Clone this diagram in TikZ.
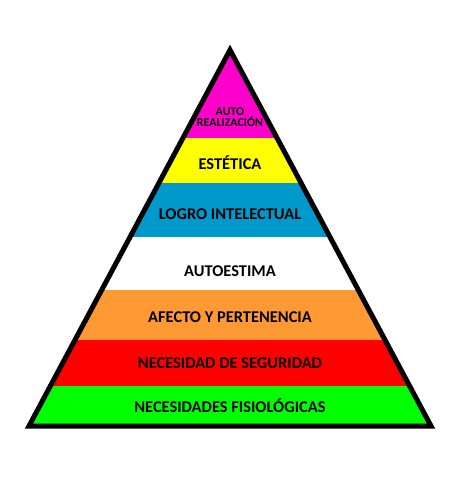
\documentclass[tikz,border=0pt]{standalone}
\usepackage{fontspec}
\setmainfont{Carlito}
\usepackage{tikz}
\usetikzlibrary{positioning}
\definecolor{pyrmagenta}{RGB}{255,0,204}
\definecolor{pyryellow}{RGB}{255,255,0}
\definecolor{pyrblue}{RGB}{0,153,204}
\definecolor{pyrorange}{RGB}{255,153,51}
\definecolor{pyrred}{RGB}{255,0,0}
\definecolor{pyrgreen}{RGB}{0,255,0}
\definecolor{pyrline}{RGB}{60,60,60}
\tikzset{
  level/.style={anchor=base, text=black, font=\bfseries\fontsize{16.5}{18}\selectfont},
  toplevel/.style={anchor=base, text=black, align=center, inner sep=0pt,
                   font=\bfseries\fontsize{12}{10.8}\selectfont},
  band/.style={draw=pyrline, line width=0.8bp}
}

\begin{document}
\begin{tikzpicture}[x=1bp, y=-1bp]
  \useasboundingbox (0,0) rectangle (457,480);
  % Corners of the pyramid
  \coordinate (apex)  at (230,50);
  \coordinate (baseL) at (29,426);
  \coordinate (baseR) at (431,426);
  % Bands
  \begin{scope}
    \clip (apex) -- (baseL) -- (baseR) -- cycle;
    \foreach \ytop/\ybot/\col in {40/138/pyrmagenta, 138/183/pyryellow,
        183/237/pyrblue, 237/290/white, 290/340/pyrorange,
        340/386/pyrred, 386/430/pyrgreen}{
      \fill[\col] (0,\ytop) rectangle (457,\ybot);
      \draw[band] (0,\ybot) -- (457,\ybot);
    }
  \end{scope}
  % Outline
  \draw[line width=5bp, line join=miter] (apex) -- (baseL) -- (baseR) -- cycle;
  % Labels
  \node[toplevel] (autorealizacion) at (230,126.5) {AUTO\\REALIZACIÓN};
  \node[level] (estetica)   at (230,170)   {ESTÉTICA};
  \node[level] (logro)      at (230,219)   {LOGRO INTELECTUAL};
  \node[level] (autoestima) at (230,276)   {AUTOESTIMA};
  \node[level] (afecto)     at (230,322.5) {AFECTO Y PERTENENCIA};
  \node[level] (seguridad)  at (230,368)   {NECESIDAD DE SEGURIDAD};
  \node[level] (fisiologicas) at (230,412.5) {NECESIDADES FISIOLÓGICAS};
\end{tikzpicture}
\end{document}
